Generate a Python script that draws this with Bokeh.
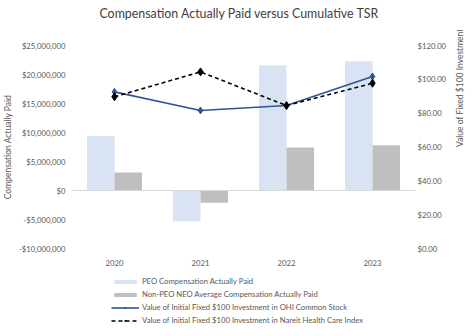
import math
from bokeh.plotting import figure
from bokeh.layouts import column
from bokeh.models import (FactorRange, Range1d, LinearAxis, NumeralTickFormatter,
                          FixedTicker, Span, Legend, LegendItem, ColumnDataSource, Label)
from bokeh.transform import dodge
from bokeh.embed import file_html
from bokeh.resources import INLINE

title_text = "Compensation Actually Paid versus Cumulative TSR"
years = ["2020", "2021", "2022", "2023"]
peo_cap = [9.4e6, -5.3e6, 21.6e6, 22.3e6]
non_peo_cap = [3.1e6, -2.1e6, 7.4e6, 7.8e6]
ohi_tsr = [92.6, 81.6, 84.5, 101.7]
nareit_tsr = [89.7, 104.4, 84.5, 97.7]
left_ticks = [-10e6, -5e6, 0, 5e6, 10e6, 15e6, 20e6, 25e6]
right_ticks = [0, 20, 40, 60, 80, 100, 120]
series_labels = [
    "PEO Compensation Actually Paid",
    "Non-PEO NEO Average Compensation Actually Paid",
    "Value of Initial Fixed $100 Investment in OHI Common Stock",
    "Value of Initial Fixed $100 Investment in Nareit Health Care Index",
]

FONT = "Lato"
TXT = "#595959"
C_PEO = "#DAE3F3"
C_NON = "#BFBFBF"
C_OHI = "#2F5597"
C_NAR = "black"

src = ColumnDataSource(dict(years=years, peo=peo_cap, nonpeo=non_peo_cap,
                            ohi=ohi_tsr, nareit=nareit_tsr))


def draw_series(fig):
    rs = []
    rs.append(fig.vbar(x=dodge("years", -0.16, range=fig.x_range), top="peo", width=0.32,
                       source=src, fill_color=C_PEO, line_color=None))
    rs.append(fig.vbar(x=dodge("years", 0.16, range=fig.x_range), top="nonpeo", width=0.32,
                       source=src, fill_color=C_NON, line_color=None))
    rs.append(fig.line("years", "ohi", source=src, y_range_name="tsr",
                       line_color=C_OHI, line_width=1.6))
    rs.append(fig.scatter("years", "ohi", source=src, y_range_name="tsr", marker="diamond",
                          size=7, fill_color=C_OHI, line_color=C_OHI))
    rs.append(fig.line("years", "nareit", source=src, y_range_name="tsr", line_color=C_NAR,
                       line_width=1.6, line_dash="4 3"))
    rs.append(fig.scatter("years", "nareit", source=src, y_range_name="tsr", marker="diamond",
                          size=8, fill_color=C_NAR, line_color=C_NAR))
    return rs


# ---- title strip (frames of the column are aligned, so x is from the frame's left) ----
tf = figure(width=476, height=30, x_range=Range1d(0, 1), y_range=Range1d(0, 1),
            x_axis_type=None, y_axis_type=None, output_backend="svg",
            toolbar_location=None, min_border=0)
tf.outline_line_color = None
tf.add_layout(Label(x=168, y=17, x_units="screen", y_units="screen", text=title_text,
                    text_align="center", text_baseline="middle", text_font=FONT,
                    text_font_size="12.4px", text_color="#404040"))

# ---- main chart ----
p = figure(width=476, height=240, x_range=FactorRange(*years),
           y_range=Range1d(-10e6, 25e6), output_backend="svg",
           toolbar_location=None, min_border_left=70, min_border_right=61,
           min_border_top=15, min_border_bottom=22)
p.extra_y_ranges = {"tsr": Range1d(0, 120)}
p.outline_line_color = None
p.xgrid.grid_line_color = None
p.ygrid.grid_line_color = None
p.add_layout(Span(location=0, dimension="width", line_color="#d9d9d9", line_width=1))
draw_series(p)

ax = p.yaxis[0]
ax.ticker = FixedTicker(ticks=left_ticks)
ax.formatter = NumeralTickFormatter(format="$0,0")
ax.axis_label = "Compensation Actually Paid"

rax = LinearAxis(y_range_name="tsr", ticker=FixedTicker(ticks=right_ticks),
                 formatter=NumeralTickFormatter(format="$0.00"),
                 axis_label="Value of Fixed $100 Investment")
p.add_layout(rax, "right")
try:
    rax.axis_label_orientation = math.pi / 2
except Exception:
    pass
for attr in ["axis_label_align", "axis_label_text_align"]:
    try:
        setattr(rax, attr, "center")
    except Exception:
        pass

for a in [ax, rax, p.xaxis[0]]:
    a.axis_line_color = None
    a.major_tick_line_color = None
    a.minor_tick_line_color = None
    a.major_tick_out = 0
    a.major_tick_in = 0
    a.minor_tick_out = 0
    a.minor_tick_in = 0
    a.major_label_text_font = FONT
    a.major_label_text_font_size = "7.7px"
    a.major_label_text_color = TXT
    a.axis_label_text_font = FONT
    a.axis_label_text_font_size = "8.5px"
    a.axis_label_text_font_style = "normal"
    a.axis_label_text_color = TXT
ax.major_label_standoff = 6
ax.axis_label_standoff = 3
rax.major_label_standoff = 2
rax.axis_label_standoff = 11
p.xaxis[0].major_label_standoff = 11

# ---- legend strip (same series, kept outside its own view so only the key shows) ----
lg = figure(width=476, height=66, x_range=FactorRange(*years),
            y_range=Range1d(1e12, 2e12), x_axis_type=None, y_axis_type=None,
            output_backend="svg", toolbar_location=None, min_border=0)
lg.extra_y_ranges = {"tsr": Range1d(1e12, 2e12)}
lg.outline_line_color = None
k = draw_series(lg)

legend = Legend(items=[
    LegendItem(label=series_labels[0], renderers=[k[0]]),
    LegendItem(label=series_labels[1], renderers=[k[1]]),
    LegendItem(label=series_labels[2], renderers=[k[2], k[3]]),
    LegendItem(label=series_labels[3], renderers=[k[4], k[5]]),
], location=(40, 10), orientation="vertical")
legend.label_text_font = FONT
legend.label_text_font_size = "7.7px"
legend.label_text_color = TXT
legend.glyph_width = 28
legend.glyph_height = 5
legend.label_height = 12
legend.spacing = 1
legend.padding = 0
legend.margin = 0
legend.label_standoff = 3
legend.border_line_color = None
legend.background_fill_alpha = 0
lg.add_layout(legend, "center")

layout = column(tf, p, lg, spacing=0)
open("out.html", "w").write(file_html(layout, INLINE))
